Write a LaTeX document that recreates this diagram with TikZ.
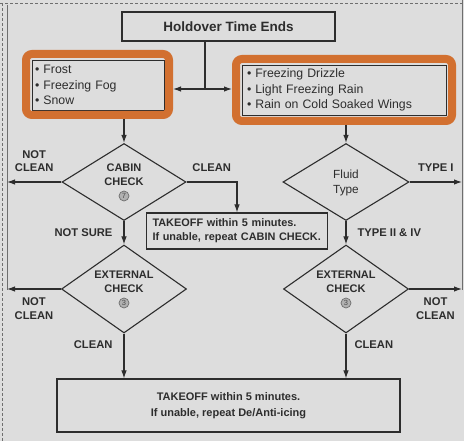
\documentclass[tikz,border=0pt]{standalone}
\usepackage{fontspec}
\setmainfont{Liberation Sans}
\usetikzlibrary{shapes.geometric,arrows.meta}

\definecolor{paper}{RGB}{221,221,221}
\definecolor{ink}{RGB}{45,45,45}
\definecolor{highlight}{RGB}{210,112,48}
\definecolor{rule}{RGB}{110,110,110}

\tikzset{
  flowbox/.style={draw=ink, line width=1.1pt, rectangle, inner sep=0pt, text=ink},
  decision/.style={diamond, draw=ink, line width=1.1pt, inner sep=0pt, text depth=0pt,
    align=center, text=ink, font=\fontsize{11}{14}\selectfont\bfseries},
  marker/.style={draw=highlight, line width=8pt, rounded corners=6pt, inner sep=0pt},
  flowlbl/.style={text=ink, align=center, inner sep=0pt, font=\fontsize{11.2}{13.5}\selectfont\bfseries},
  stepnum/.style={circle, draw=rule, fill=paper!80!black, line width=0.7pt, inner sep=0pt,
    minimum size=10pt, text=ink!85, font=\fontsize{7.5}{7.5}\selectfont},
  flow/.style={draw=ink, line width=1.1pt, -{Latex[length=8pt,width=5.5pt]}},
}

\begin{document}
\begin{tikzpicture}[x=1pt, y=-1pt]
\newcommand{\Lrule}{7};
\newcommand{\Rrule}{462};
\newcommand{\Rlow}{290};
\coordinate (Ltop) at (\Lrule, 5);
\coordinate (Lbot) at (\Lrule, \Rlow);
\coordinate (Rtop) at (\Rrule, 0);
\coordinate (Rbot) at (\Rrule, \Rlow);
\coordinate (split) at (205, 89);

% page + frame
\fill[paper] (0,0) rectangle (464,441);
\useasboundingbox (0,0) rectangle (464,441);
\draw[rule, dash pattern=on 3pt off 2pt, line width=0.8pt] (0,3) -- (464,3);
\draw[rule, dash pattern=on 3pt off 2pt, line width=0.8pt] (2,3) -- (2,441);
\draw[rule, line width=1pt] (Ltop) -- (Lbot);
\draw[rule, line width=1pt] (Rtop) -- (Rbot);
%

% boxes
\node[flowbox, minimum width=213pt, minimum height=29pt,
  font=\fontsize{13.5}{16}\selectfont\bfseries] (hold) at (228.5, 26.5) {Holdover Time Ends};
\node[flowbox, line width=0.8pt, minimum width=132pt, minimum height=50pt, text width=126pt,
  inner xsep=3pt, align=left, font=\fontsize{12.3}{15.5}\selectfont] (frost) at (98, 85)
  {• Frost\\• Freezing Fog\\• Snow};
\node[flowbox, line width=0.8pt, minimum width=204pt, minimum height=50pt, text width=194pt,
  inner xsep=5pt, align=left, font=\fontsize{12.3}{15.5}\selectfont] (drizzle) at (344, 90)
  {• Freezing Drizzle\\• Light Freezing Rain\\• Rain on Cold Soaked Wings};
\node[marker, minimum width=143pt, minimum height=61pt] (frostmark) at (97.5, 84.5) {};
\node[marker, minimum width=216pt, minimum height=62pt] (drizzlemark) at (344, 90) {};
\node[flowbox, minimum width=181pt, minimum height=36pt, text width=173pt, inner xsep=4pt,
  align=left, font=\fontsize{10.9}{14}\selectfont\bfseries] (retry) at (237, 231)
  {\hspace*{2pt}TAKEOFF within 5 minutes.\\\hspace*{2pt}If unable, repeat CABIN CHECK.};
\node[flowbox, minimum width=343pt, minimum height=53pt, align=center,
  font=\fontsize{11}{16}\selectfont\bfseries] (final) at (228.5, 405.5)
  {TAKEOFF within 5 minutes.\\If unable, repeat De/Anti-icing};
%

% decisions
\node[decision, aspect=1.61, minimum width=124pt, minimum height=77pt] (cabin) at (124, 182)
  {CABIN\\CHECK\\\phantom{C}};
\node[stepnum] (cabinnum) at ([yshift=-14pt]cabin.center) {7};
\node[decision, aspect=1.42, minimum width=125pt, minimum height=88pt] (extl) at (124, 289)
  {EXTERNAL\\CHECK\\\phantom{C}};
\node[stepnum] (extlnum) at ([yshift=-14pt]extl.center) {3};
\node[decision, aspect=1.62, minimum width=126pt, minimum height=77pt,
  font=\fontsize{11.8}{15}\selectfont] (fluid) at (346, 182) {Fluid\\Type};
\node[decision, aspect=1.42, minimum width=125pt, minimum height=88pt] (extr) at (346, 289)
  {EXTERNAL\\CHECK\\\phantom{C}};
\node[stepnum] (extrnum) at ([yshift=-14pt]extr.center) {3};
%

% connectors
\draw[ink, line width=1.1pt] (hold.south -| split) -- (split);
\draw[flow] (split) -- (split -| frostmark.east);
\draw[flow] (split) -- (split -| drizzlemark.west);
\draw[flow] (frostmark.south -| cabin.north) -- (cabin.north);
\draw[flow] (drizzlemark.south -| fluid.north) -- (fluid.north);
\draw[flow] (cabin.west) -- node[flowlbl, above=9.5pt] (notcleanA) {NOT\\CLEAN} (cabin.west -| Ltop);
\draw[flow] (cabin.east) -- node[flowlbl, above=9.5pt] (cleanA) {CLEAN} (cabin.east -| retry.north)
  -- (retry.north);
\draw[flow] (cabin.south) -- node[flowlbl, left=11pt] (notsure) {NOT SURE} (extl.north);
\draw[flow] (extl.west) -- node[flowlbl, below=8.5pt] (notcleanB) {NOT\\CLEAN} (extl.west -| Lbot);
\draw[flow] (extl.south) -- node[flowlbl, left=11pt, pos=0.24] (cleanB) {CLEAN} (extl.south |- final.north);
\draw[flow] (fluid.east) -- node[flowlbl, above=9.5pt] (typeone) {TYPE I} (fluid.east -| Rtop);
\draw[flow] (fluid.south) -- node[flowlbl, right=11pt] (typetwo) {TYPE II \& IV} (extr.north);
\draw[flow] (extr.east) -- node[flowlbl, below=8.5pt] (notcleanC) {NOT\\CLEAN} (extr.east -| Rbot);
\draw[flow] (extr.south) -- node[flowlbl, right=8pt, pos=0.24] (cleanC) {CLEAN} (extr.south |- final.north);
%
\end{tikzpicture}
\end{document}
